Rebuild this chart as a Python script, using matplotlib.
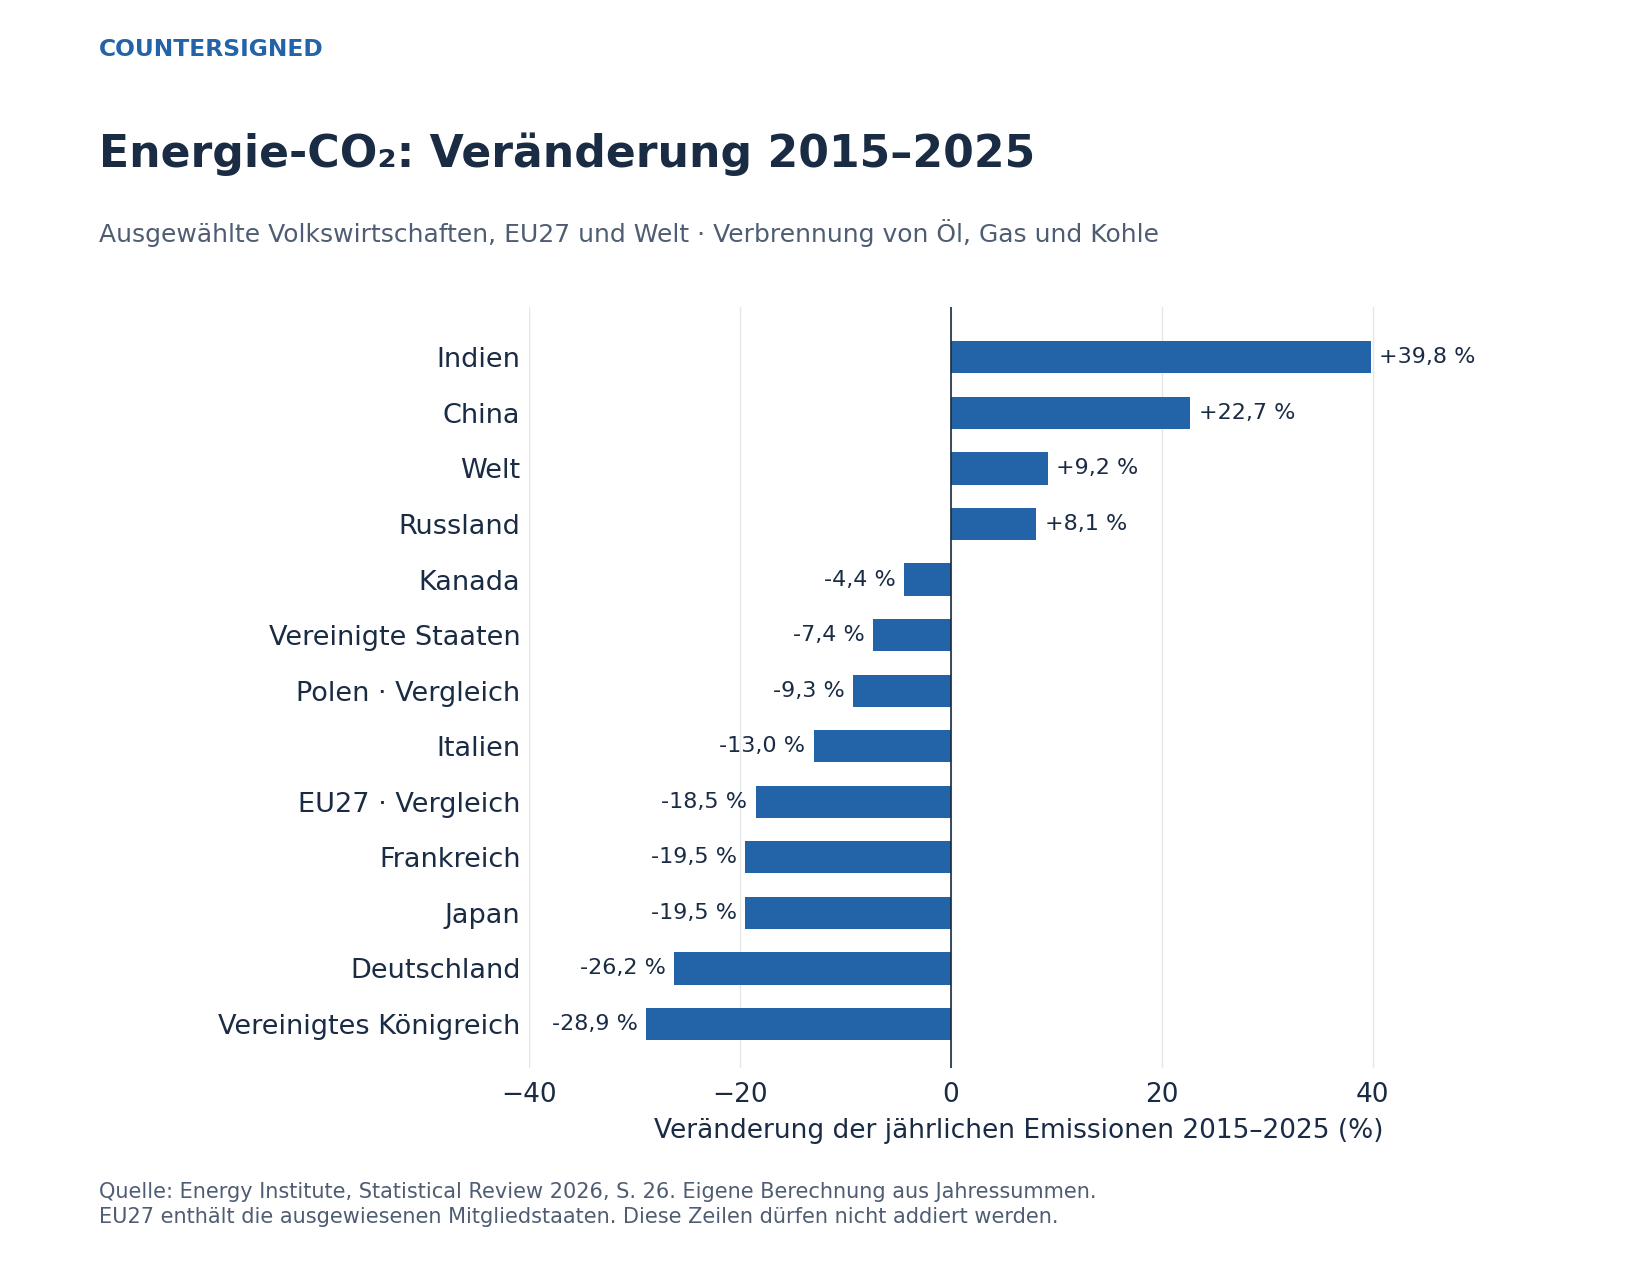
import matplotlib
matplotlib.use('Agg')
import matplotlib.pyplot as plt

# data (top to bottom)
countries = ["Indien", "China", "Welt", "Russland", "Kanada", "Vereinigte Staaten",
             "Polen · Vergleich", "Italien", "EU27 · Vergleich", "Frankreich", "Japan",
             "Deutschland", "Vereinigtes Königreich"]
changes = [39.8, 22.7, 9.2, 8.1, -4.4, -7.4, -9.3, -13.0, -18.5, -19.5, -19.5, -26.2, -28.9]
xticks = [-40, -20, 0, 20, 40]

BLUE = '#2364a8'
DARK = '#1a2b44'
GREY = '#4f5d73'

W, H = 1650, 1275
fig = plt.figure(figsize=(W / 100, H / 100), dpi=100)
ax = fig.add_axes([0.3205, 0.162, 0.5755, 0.597])

y = list(range(len(countries)))[::-1]
ax.barh(y, changes, height=0.58, color=BLUE, zorder=3)
for yi, v in zip(y, changes):
    lbl = f"{v:+.1f} %".replace('.', ',')
    if v >= 0:
        ax.text(v + 0.8, yi, lbl, va='center', ha='left', fontsize=16, color=DARK)
    else:
        ax.text(v - 0.8, yi, lbl, va='center', ha='right', fontsize=16, color=DARK)

ax.set_yticks(y)
ax.set_yticklabels(countries, fontsize=19.5, color=DARK)
ax.set_xticks(xticks)
ax.tick_params(axis='x', labelsize=19, colors=DARK, length=0, pad=10)
ax.tick_params(axis='y', length=0, pad=6)
ax.set_xlim(-40, 50)
ax.set_ylim(-0.8, len(countries) - 0.1)
ax.grid(axis='x', color='#e6e6e6', lw=1, zorder=0)
for s in ax.spines.values():
    s.set_visible(False)
ax.axvline(0, color=DARK, lw=1.2, zorder=4)
ax.set_xlabel("Veränderung der jährlichen Emissionen 2015–2025 (%)", fontsize=19,
              color=DARK, labelpad=8)
ax.xaxis.set_label_coords(0.9, -0.065)
ax.xaxis.label.set_horizontalalignment('right')

fig.text(0.06, 0.961, "COUNTERSIGNED", fontsize=16.8, fontweight='bold', color=BLUE, va='center')
fig.text(0.06, 0.879, "Energie-CO₂: Veränderung 2015–2025", fontsize=31.8,
         fontweight='bold', color=DARK, va='center')
fig.text(0.06, 0.817, "Ausgewählte Volkswirtschaften, EU27 und Welt · Verbrennung von Öl, Gas und Kohle",
         fontsize=18, color=GREY, va='center')
fig.text(0.06, 0.055, "Quelle: Energy Institute, Statistical Review 2026, S. 26. Eigene Berechnung aus Jahressummen.\n"
         "EU27 enthält die ausgewiesenen Mitgliedstaaten. Diese Zeilen dürfen nicht addiert werden.",
         fontsize=15, color=GREY, va='center', linespacing=1.3)

fig.savefig('out.png', dpi=100)
